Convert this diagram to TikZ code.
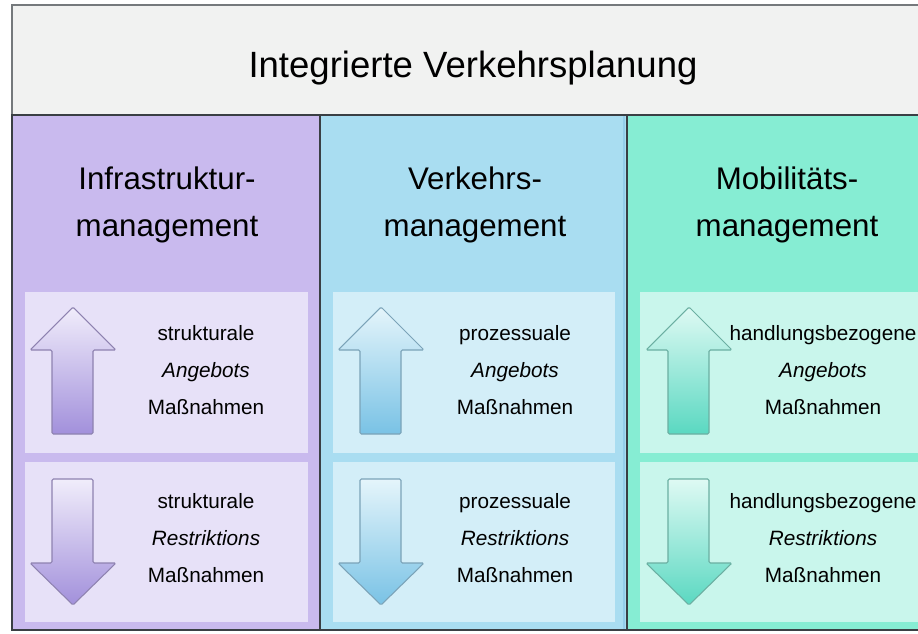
\documentclass[tikz,border=0pt]{standalone}
\usepackage{fontspec}
\setmainfont{Liberation Sans}

\definecolor{titlebg}{HTML}{F1F2F1}
\definecolor{rahmen}{HTML}{3A3F44}
\definecolor{lilaA}{HTML}{C9BAEE}
\definecolor{lilaB}{HTML}{E7E1F8}
\definecolor{lilaC}{HTML}{A290DB}
\definecolor{lilaD}{HTML}{8E82B0}
\definecolor{blauA}{HTML}{A9DDF1}
\definecolor{blauB}{HTML}{D3EEF8}
\definecolor{blauC}{HTML}{79C2E5}
\definecolor{blauD}{HTML}{7BA3B8}
\definecolor{tuerkA}{HTML}{86EDD3}
\definecolor{tuerkB}{HTML}{C9F6EC}
\definecolor{tuerkC}{HTML}{5AD8C1}
\definecolor{tuerkD}{HTML}{6BAFA2}

\tikzset{
  kopf/.style={align=center, font=\fontsize{17.8}{27}\selectfont},
  massn/.style={align=center, font=\fontsize{11.8}{21}\selectfont},
}

\begin{document}
\begin{tikzpicture}[x=0.02cm,y=-0.02cm]
    \useasboundingbox (0,0) rectangle (918,633);
    \clip (0,0) rectangle (918,633);

    % Titel
    \filldraw[fill=titlebg, draw=rahmen!70, line width=0.8pt] (12,5) rectangle (940,115);
    \node (titel) at (473,68) {\fontsize{20.8}{24}\selectfont Integrierte Verkehrsplanung};

    % Spalten
    \filldraw[fill=lilaA, draw=rahmen, line width=0.8pt] (12,115) rectangle (320,630);
    \filldraw[fill=blauA, draw=rahmen, line width=0.8pt] (320,115) rectangle (627,630);
    \filldraw[fill=tuerkA, draw=rahmen, line width=0.8pt] (627,115) rectangle (940,630);
    \draw[blauC!80, line width=1.5pt] (624,116) -- (624,629);

    \node[kopf] (k1) at (167,205) {Infrastruktur-\\management};
    \node[kopf] (k2) at (475,205) {Verkehrs-\\management};
    \node[kopf] (k3) at (787,205) {Mobilitäts-\\management};

    % Felder
    \fill[lilaB] (25,292) rectangle (308,453);
    \fill[lilaB] (25,462) rectangle (308,622);
    \fill[blauB] (333,292) rectangle (615,453);
    \fill[blauB] (333,462) rectangle (615,622);
    \fill[tuerkB] (640,292) rectangle (940,453);
    \fill[tuerkB] (640,462) rectangle (940,622);

    % Pfeile
    \shade[top color=lilaB!60!white, bottom color=lilaC, draw=lilaD, line width=0.6pt, rounded corners=0.8pt]
      (73,307) -- (116,350) -- (93,350) -- (93,434) -- (52,434) -- (52,350) -- (30,350) -- cycle;
    \shade[top color=lilaB!60!white, bottom color=lilaC, draw=lilaD, line width=0.6pt, rounded corners=0.8pt]
      (52,479) -- (93,479) -- (93,563) -- (116,563) -- (73,605) -- (30,563) -- (52,563) -- cycle;

    \shade[top color=blauB!60!white, bottom color=blauC, draw=blauD, line width=0.6pt, rounded corners=0.8pt]
      (381,307) -- (424,350) -- (401,350) -- (401,434) -- (360,434) -- (360,350) -- (338,350) -- cycle;
    \shade[top color=blauB!60!white, bottom color=blauC, draw=blauD, line width=0.6pt, rounded corners=0.8pt]
      (360,479) -- (401,479) -- (401,563) -- (424,563) -- (381,605) -- (338,563) -- (360,563) -- cycle;

    \shade[top color=tuerkB!60!white, bottom color=tuerkC, draw=tuerkD, line width=0.6pt, rounded corners=0.8pt]
      (689,307) -- (732,350) -- (709,350) -- (709,434) -- (668,434) -- (668,350) -- (646,350) -- cycle;
    \shade[top color=tuerkB!60!white, bottom color=tuerkC, draw=tuerkD, line width=0.6pt, rounded corners=0.8pt]
      (668,479) -- (709,479) -- (709,563) -- (732,563) -- (689,605) -- (646,563) -- (668,563) -- cycle;

    % Massnahmen
    \node[massn] (m1) at (206,370) {strukturale\\\textit{Angebots}\\Maßnahmen};
    \node[massn] (m2) at (206,538) {strukturale\\\textit{Restriktions}\\Maßnahmen};
    \node[massn] (m3) at (515,370) {prozessuale\\\textit{Angebots}\\Maßnahmen};
    \node[massn] (m4) at (515,538) {prozessuale\\\textit{Restriktions}\\Maßnahmen};
    \node[massn] (m5) at (823,370) {handlungsbezogene\\\textit{Angebots}\\Maßnahmen};
    \node[massn] (m6) at (823,538) {handlungsbezogene\\\textit{Restriktions}\\Maßnahmen};
\end{tikzpicture}
\end{document}
